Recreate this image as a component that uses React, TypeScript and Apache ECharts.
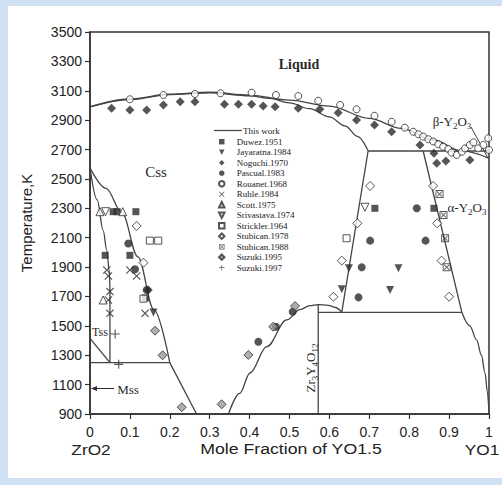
import React, { useEffect, useRef } from 'react';
import * as echarts from 'echarts';

// ---- "This work" phase boundaries: [mole fraction YO1.5, T (K)] ----
const liquidus = [[0, 2990], [0.1, 3044], [0.2, 3077], [0.3, 3090], [0.4, 3070], [0.5, 3036], [0.6, 2996], [0.7, 2912], [0.78, 2844], [0.86, 2765], [0.93, 2692], [1, 2640]];
const cssSolidus = [[0, 2990], [0.1, 3040], [0.2, 3074], [0.3, 3086], [0.4, 3066], [0.45, 3048], [0.5, 3018], [0.55, 2978], [0.6, 2922], [0.64, 2860], [0.67, 2790], [0.697, 2692]];
const peritecticLine = [[0.697, 2690], [1, 2690]];
const cssAlphaLeft = [[0.697, 2690], [0.631, 1592]];
const cssAlphaRight = [[0.835, 2690], [0.932, 1592]];
const eutectoidLine = [[0.572, 1592], [0.932, 1592]];
const alphaSolvus = [[0.932, 1592], [0.952, 1500], [0.969, 1404], [0.981, 1300], [0.99, 1179], [0.996, 1050], [1, 905]];
const deltaDome = [[0.347, 900], [0.375, 1040], [0.401, 1179], [0.443, 1358], [0.493, 1540], [0.526, 1610], [0.551, 1638], [0.572, 1645], [0.597, 1640], [0.615, 1625], [0.631, 1592]];
const deltaCompound = [[0.572, 900], [0.572, 1645]];
const cssLowLeft = [[0.2, 1250], [0.267, 900]];
const cssTssRight = [[0, 2575], [0.04, 2435], [0.08, 2270], [0.12, 1970], [0.16, 1610], [0.2, 1250]];
const tssCssLeftCurve = [[0, 2575], [0.018, 2357], [0.033, 2150], [0.042, 2016], [0.048, 1880], [0.05, 1750]];
const tssCssLeftStraight = [[0.05, 1750], [0.05, 1250]];
const tssMss = [[0, 1415], [0.05, 1250]];
const monoEutectoid = [[0, 1250], [0.2, 1250]];

// ---- experimental data ----
const duwez1951 = [[0.058, 2277], [0.068, 2277], [0.115, 2277], [0.038, 1980], [0.1, 1980], [0.139, 1690], [0.714, 2300], [0.862, 2300]];
const jayaratna1984 = [[0.159, 1590], [0.649, 1892], [0.773, 1892], [0.631, 1749], [0.752, 1744]];
const noguchi1970 = [[0.054, 2981], [0.1, 2969], [0.142, 2969], [0.184, 3003], [0.226, 3026], [0.263, 3026], [0.337, 3008], [0.372, 3008], [0.405, 3008], [0.434, 2996], [0.464, 2992], [0.522, 2981], [0.576, 2974], [0.622, 2951], [0.668, 2901], [0.713, 2867], [0.756, 2821], [0.827, 2731], [0.862, 2674], [0.869, 2606], [0.892, 2622], [0.952, 2629], [0.146, 1744]];
const pascual1983 = [[0.096, 2060], [0.113, 1885], [0.142, 1744], [0.422, 1392], [0.466, 1494], [0.508, 1596], [0.819, 2300], [0.702, 2080], [0.841, 2080], [0.681, 1899], [0.673, 1694]];
const rouanet1968 = [[0.1, 3042], [0.184, 3071], [0.263, 3078], [0.327, 3083], [0.405, 3087], [0.466, 3071], [0.522, 3064], [0.572, 3032], [0.627, 3003], [0.668, 2974], [0.713, 2930], [0.756, 2889], [0.789, 2849], [0.81, 2821], [0.823, 2804], [0.835, 2788], [0.848, 2770], [0.86, 2755], [0.873, 2736], [0.885, 2719], [0.898, 2704], [0.906, 2679], [0.919, 2663], [0.932, 2685], [0.94, 2708], [0.952, 2731], [0.961, 2749], [0.973, 2708], [0.986, 2731], [0.998, 2777], [1, 2697]];
const ruhle1984 = [[0.042, 1880], [0.046, 1839], [0.05, 1733], [0.046, 1676], [0.05, 1585], [0.1, 1880], [0.117, 1839], [0.138, 1585]];
const scott1975 = [[0.025, 2277], [0.082, 2277], [0.033, 1676]];
const srivastava1974 = [[0.039, 2277], [0.689, 2307]];
const strickler1964 = [[0.15, 2080], [0.171, 2080], [0.134, 1685], [0.643, 2096]];
const stubican1978 = [[0.117, 2180], [0.134, 1930], [0.702, 2452], [0.67, 2198], [0.631, 1944], [0.61, 1698], [0.86, 2452], [0.87, 2198], [0.881, 1944], [0.9, 1698]];
const stubican1988 = [[0.876, 2397], [0.886, 2255], [0.89, 2096], [0.894, 1899]];
const suzuki1995 = [[0.163, 1467], [0.182, 1300], [0.23, 946], [0.33, 966], [0.397, 1302], [0.459, 1494], [0.514, 1635]];
const suzuki1997 = [[0.063, 1445], [0.072, 1238]];

const legendNames = ['Duwez.1951', 'Jayaratna.1984', 'Noguchi.1970', 'Pascual.1983', 'Rouanet.1968', 'Ruhle.1984', 'Scott.1975', 'Srivastava.1974', 'Strickler.1964', 'Stubican.1978', 'Stubican.1988', 'Suzuki.1995', 'Suzuki.1997'];

const SQ_PATH = 'path://M0,0H10V10H0Z';
const UP_PATH = 'path://M5,0L10,10H0Z';
const DOWN_PATH = 'path://M0,0H10L5,10Z';
const DIA_PATH = 'path://M5,0L10,5L5,10L0,5Z';
const X_PATH = 'path://M0,1L1,0L5,4L9,0L10,1L6,5L10,9L9,10L5,6L1,10L0,9L4,5Z';
const PLUS_PATH = 'path://M4.4,0H5.6V4.4H10V5.6H5.6V10H4.4V5.6H0V4.4H4.4Z';
const XSQ_PATH = 'path://M0,0H10V10H0Z M1.2,1.2V8.8H8.8V1.2Z M1.6,2.4L2.4,1.6L5,4.2L7.6,1.6L8.4,2.4L5.8,5L8.4,7.6L7.6,8.4L5,5.8L2.4,8.4L1.6,7.6L4.2,5Z';

const INK = '#2a2a2a';
const LINE = '#444';

export default function App() {
  const ref = useRef<HTMLDivElement>(null);
  useEffect(() => {
    const chart = echarts.init(ref.current!, null, { renderer: 'svg' });

    const mkLine = (data: number[][], smooth: boolean | number) => ({
      type: 'line', name: 'This work', data, symbol: 'none', smooth,
      smoothMonotone: 'x', silent: true, z: 2,
      color: LINE,
      lineStyle: { color: LINE, width: 1.3 },
      itemStyle: { color: LINE },
    });
    const filled = { color: INK, borderColor: INK, borderWidth: 0 };
    const open = { color: '#fff', borderColor: INK, borderWidth: 1 };
    const mkScatter = (name: string, data: number[][], symbol: string, size: number, style: any) => ({
      type: 'scatter', name, data, symbol, symbolSize: size,
      itemStyle: style, z: 3, silent: true,
    });

    const serif = 'Liberation Serif';
    const richSub = {
      n: { fontSize: 13, fontFamily: serif, fill: INK, lineHeight: 18, verticalAlign: 'middle' },
      s: { fontSize: 9, fontFamily: serif, fill: INK, lineHeight: 18, verticalAlign: 'bottom' },
    };
    const option: any = {
      animation: false,
      backgroundColor: 'transparent',
      grid: { left: 90, right: 13, top: 32, bottom: 71, show: true, borderColor: '#333', borderWidth: 1.5, backgroundColor: 'transparent' },
      xAxis: {
        type: 'value', min: 0, max: 1, interval: 0.1,
        axisLine: { show: true, onZero: false, lineStyle: { color: '#333', width: 1.5 } },
        axisTick: { show: true, inside: false, length: 5, lineStyle: { color: '#333', width: 1.2 } },
        axisLabel: { color: '#222', fontSize: 14, fontFamily: 'Liberation Sans', margin: 11, formatter: (v: number) => String(Math.round(v * 10) / 10) },
        splitLine: { show: false },
      },
      yAxis: {
        type: 'value', min: 900, max: 3500, interval: 200,
        name: 'Temperature,K', nameLocation: 'middle', nameGap: 56, nameRotate: 90,
        nameTextStyle: { color: '#222', fontSize: 15, fontFamily: 'Liberation Sans' },
        axisLine: { show: true, onZero: false, lineStyle: { color: '#333', width: 1.5 } },
        axisTick: { show: true, inside: false, length: 5, lineStyle: { color: '#333', width: 1.2 } },
        axisLabel: { color: '#222', fontSize: 14, fontFamily: 'Liberation Sans', margin: 8, formatter: (v: number) => String(Math.round(v)) },
        splitLine: { show: false },
      },
      legend: {
        data: legendNames, orient: 'vertical', left: 218, top: 137.2, padding: 0,
        itemWidth: 20, itemHeight: 5.5, itemGap: 1.5, selectedMode: false, symbolKeepAspect: true,
        textStyle: { fontFamily: serif, fontSize: 9, color: '#222', lineHeight: 9 },
      },
      series: [
        mkLine(liquidus, 0.35),
        mkLine(cssSolidus, 0.35),
        mkLine(peritecticLine, false),
        mkLine(cssAlphaLeft, false),
        mkLine(cssAlphaRight, false),
        mkLine(eutectoidLine, false),
        mkLine(alphaSolvus, 0.35),
        mkLine(deltaDome, 0.35),
        mkLine(deltaCompound, false),
        mkLine(cssLowLeft, false),
        mkLine(cssTssRight, 0.35),
        mkLine(tssCssLeftCurve, 0.35),
        mkLine(tssCssLeftStraight, false),
        mkLine(tssMss, false),
        mkLine(monoEutectoid, false),
        mkScatter('Duwez.1951', duwez1951, SQ_PATH, 7, filled),
        mkScatter('Jayaratna.1984', jayaratna1984, DOWN_PATH, 8, filled),
        mkScatter('Noguchi.1970', noguchi1970, DIA_PATH, 9, filled),
        mkScatter('Pascual.1983', pascual1983, 'circle', 8, filled),
        mkScatter('Rouanet.1968', rouanet1968, 'circle', 7, open),
        mkScatter('Ruhle.1984', ruhle1984, X_PATH, 8, filled),
        mkScatter('Scott.1975', scott1975, UP_PATH, 8, open),
        mkScatter('Srivastava.1974', srivastava1974, DOWN_PATH, 8, open),
        mkScatter('Strickler.1964', strickler1964, SQ_PATH, 7, open),
        mkScatter('Stubican.1978', stubican1978, DIA_PATH, 9, open),
        mkScatter('Stubican.1988', stubican1988, XSQ_PATH, 8, { color: '#333', borderWidth: 0 }),
        mkScatter('Suzuki.1995', suzuki1995, DIA_PATH, 9, { color: '#9a9a9a', borderColor: '#333', borderWidth: 1 }),
        mkScatter('Suzuki.1997', suzuki1997, PLUS_PATH, 9, filled),
      ],
      graphic: [
        { type: 'line', shape: { x1: 214, y1: 130.5, x2: 242, y2: 130.5 }, style: { stroke: LINE, lineWidth: 1.2 } },
        { type: 'text', x: 243, y: 130.5, style: { text: 'This work', font: '9px "Liberation Serif"', fill: '#222', textAlign: 'left', textVerticalAlign: 'middle' } },
        { type: 'text', x: 299, y: 64, style: { text: 'Liquid', font: 'bold 14px "Liberation Serif"', fill: INK, textAlign: 'center', textVerticalAlign: 'middle' } },
        { type: 'text', x: 156, y: 172, style: { text: 'Css', font: '15px "Liberation Serif"', fill: INK, textAlign: 'center', textVerticalAlign: 'middle' } },
        { type: 'text', x: 100, y: 332, style: { text: 'Tss', font: '12px "Liberation Serif"', fill: INK, textAlign: 'center', textVerticalAlign: 'middle' } },
        { type: 'text', x: 128, y: 389, style: { text: 'Mss', font: '13px "Liberation Serif"', fill: INK, textAlign: 'center', textVerticalAlign: 'middle' } },
        { type: 'line', shape: { x1: 95, y1: 388.5, x2: 114, y2: 388.5 }, style: { stroke: INK, lineWidth: 1 } },
        { type: 'polygon', shape: { points: [[91, 388.5], [97, 386], [97, 391]] }, style: { fill: INK } },
        { type: 'text', x: 452, y: 121, style: { text: '{n|β-Y}{s|2}{n|O}{s|3}', textAlign: 'center', textVerticalAlign: 'middle', rich: richSub } },
        { type: 'line', shape: { x1: 471, y1: 127, x2: 488, y2: 158 }, style: { stroke: LINE, lineWidth: 1 } },
        { type: 'text', x: 467, y: 207, style: { text: '{n|α-Y}{s|2}{n|O}{s|3}', textAlign: 'center', textVerticalAlign: 'middle', rich: richSub } },
        { type: 'text', x: 310, y: 368, rotation: Math.PI / 2, style: { text: '{n|Zr}{s|3}{n|Y}{s|4}{n|O}{s|12}', textAlign: 'center', textVerticalAlign: 'middle', rich: richSub } },
        { type: 'text', x: 91, y: 449, scaleX: 1.15, style: { text: 'ZrO2', font: '15px "Liberation Sans"', fill: '#222', textAlign: 'center', textVerticalAlign: 'middle' } },
        { type: 'text', x: 291, y: 449, scaleX: 1.18, style: { text: 'Mole Fraction of YO1.5', font: '15px "Liberation Sans"', fill: '#222', textAlign: 'center', textVerticalAlign: 'middle' } },
        { type: 'text', x: 482, y: 449, scaleX: 1.15, style: { text: 'YO1', font: '15px "Liberation Sans"', fill: '#222', textAlign: 'center', textVerticalAlign: 'middle' } },
      ],
    };
    chart.setOption(option);
    return () => chart.dispose();
  }, []);

  return (
    <div style={{ position: 'fixed', left: 0, top: 0, width: 502, height: 485, background: '#cfe1f2', overflow: 'hidden' }}>
      <div style={{ position: 'absolute', left: 8, top: 6, width: 494, height: 472, background: '#ffffff' }} />
      <div ref={ref} style={{ position: 'absolute', left: 0, top: 0, width: 502, height: 485 }} />
    </div>
  );
}
